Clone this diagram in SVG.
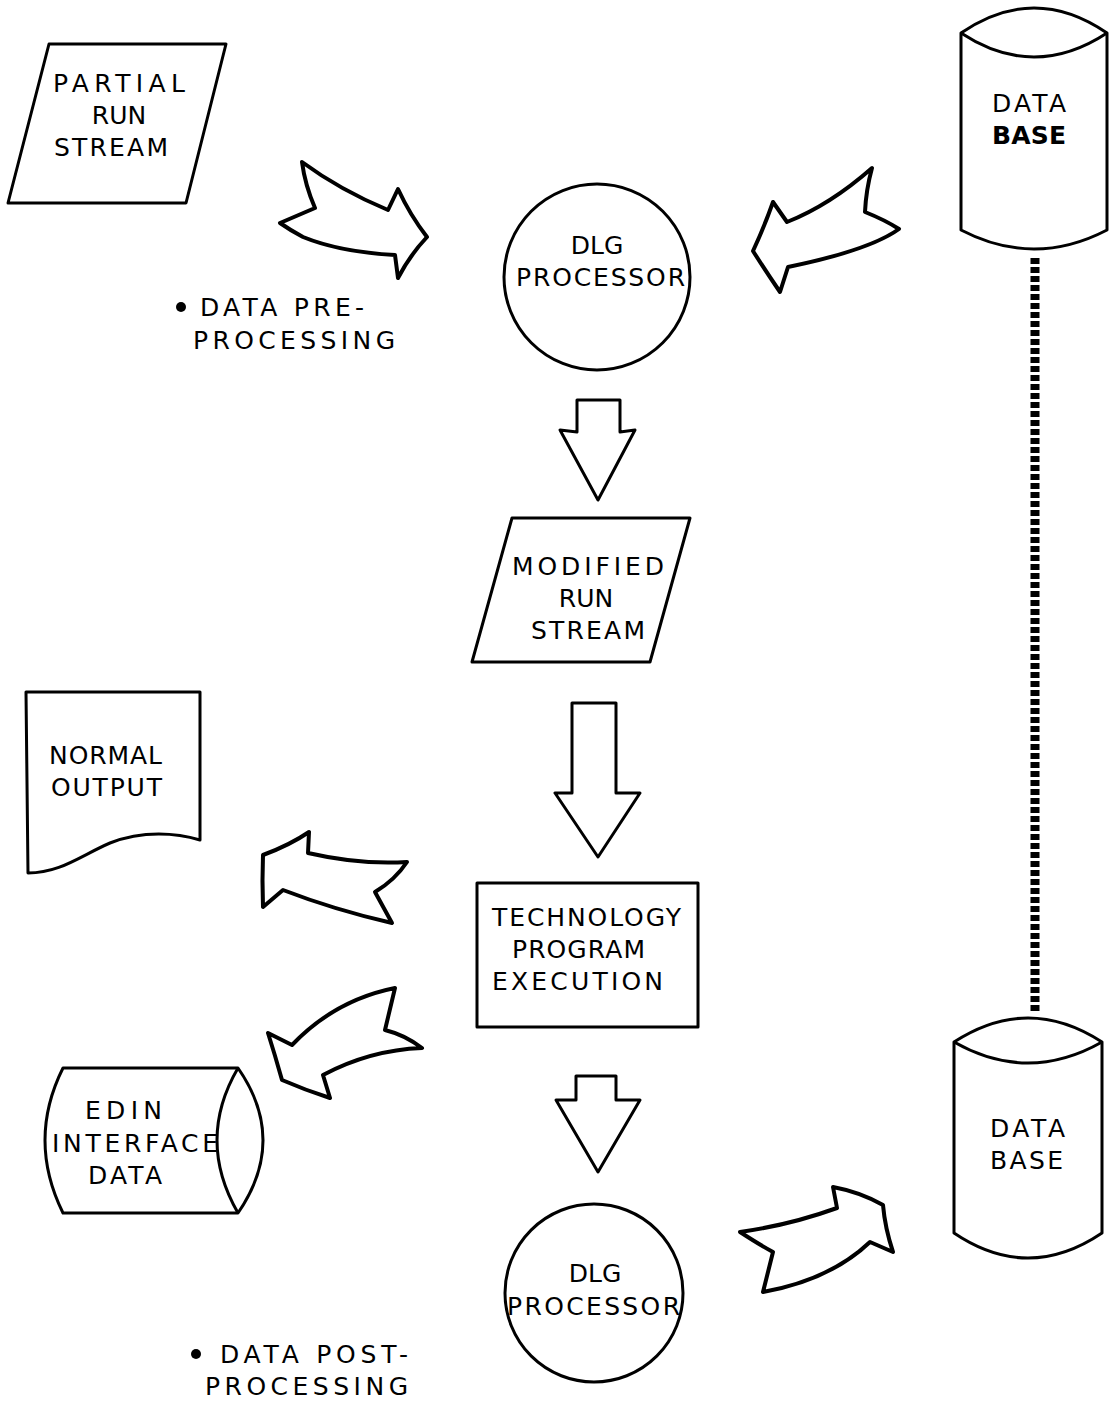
<svg xmlns="http://www.w3.org/2000/svg" width="1111" height="1403" viewBox="0 0 1111 1403">
<style>
.s{fill:#fff;stroke:#000;stroke-width:3;stroke-linejoin:round}
.a{fill:#fff;stroke:#000;stroke-width:4;stroke-linejoin:round}
.t{font-family:"DejaVu Sans","Liberation Sans",sans-serif;font-size:25px;fill:#000}
.m{text-anchor:middle}
.b{font-weight:bold}
</style>
<rect width="1111" height="1403" fill="#fff"/>
<g id="connectors">
<line x1="1035" y1="258" x2="1035" y2="1014" stroke="#000" stroke-width="9" stroke-dasharray="6 3"/>
<path class="a" d="M302,162 Q340,190 388,210 L398,189 Q410,215 427,237 Q410,255 398,278 L395,255 Q340,252 303,237 Q290,230 280,223 L315,208 Q305,185 302,162 Z"/>
<path class="a" d="M872,168 Q866,190 865,212 Q885,220 899,229 Q870,250 788,267 L780,292 Q765,270 753,251 Q765,225 773,202 L787,222 Q830,205 872,168 Z"/>
<path class="s" d="M577,400 L620,400 L620,432 L635,430 L598,500 L560,430 L577,432 Z"/>
<path class="s" d="M572,703 L616,703 L616,793 L640,793 L598,857 L555,793 L572,793 Z"/>
<path class="a" d="M309,832 L308,853 Q360,865 407,862 Q395,880 375,892 L392,923 Q335,910 283,890 L263,907 Q262,880 263,855 Q290,845 309,832 Z"/>
<path class="a" d="M395,988 L385,1030 Q405,1035 422,1048 Q370,1050 323,1075 L330,1098 Q305,1090 282,1080 Q275,1055 268,1033 L292,1045 Q335,1000 395,988 Z"/>
<path class="s" d="M576,1076 L616,1076 L616,1100 L640,1100 L598,1172 L556,1100 L576,1100 Z"/>
<path class="a" d="M740,1232 Q760,1245 773,1252 L763,1292 Q830,1280 870,1242 L893,1252 Q885,1228 883,1205 Q860,1192 833,1187 L837,1208 Q790,1225 740,1232 Z"/>
</g>
<g id="partial-run-stream">
<path class="s" d="M49,44 L226,44 L186,203 L8,203 Z"/>
<text class="t" x="53" y="92" textLength="132" lengthAdjust="spacing">PARTIAL</text>
<text class="t m" x="119" y="124">RUN</text>
<text class="t" x="54" y="156" textLength="114" lengthAdjust="spacing">STREAM</text>
</g>
<g id="database-top">
<path class="s" d="M961,33 Q1034,-17 1107,33 L1107,230 Q1034,268 961,230 Z"/>
<path class="s" fill="none" d="M961,33 Q1034,81 1107,33"/>
<text class="t" x="992" y="112" textLength="74" lengthAdjust="spacing">DATA</text>
<text class="t b" x="992" y="144" textLength="74" lengthAdjust="spacing">BASE</text>
</g>
<g id="dlg-processor-top">
<circle class="s" cx="597" cy="277" r="93"/>
<text class="t m" x="597" y="254">DLG</text>
<text class="t" x="516" y="286" textLength="169" lengthAdjust="spacing">PROCESSOR</text>
</g>
<g id="pre-processing-label">
<circle cx="181" cy="307" r="5" fill="#000"/>
<text class="t" x="200" y="316" textLength="164" lengthAdjust="spacing">DATA PRE-</text>
<text class="t" x="193" y="349" textLength="202" lengthAdjust="spacing">PROCESSING</text>
</g>
<g id="modified-run-stream">
<path class="s" d="M512,518 L690,518 L650,662 L472,662 Z"/>
<text class="t" x="512" y="575" textLength="152" lengthAdjust="spacing">MODIFIED</text>
<text class="t m" x="586" y="607">RUN</text>
<text class="t" x="531" y="639" textLength="114" lengthAdjust="spacing">STREAM</text>
</g>
<g id="normal-output">
<path class="s" d="M26,692 L200,692 L200,840 C177,833 143,830 110,843 C80,856 60,873 28,873 Z"/>
<text class="t" x="49" y="764" textLength="113" lengthAdjust="spacing">NORMAL</text>
<text class="t" x="51" y="796" textLength="111" lengthAdjust="spacing">OUTPUT</text>
</g>
<g id="technology-program-execution">
<rect class="s" x="477" y="883" width="221" height="144"/>
<text class="t" x="492" y="926" textLength="189" lengthAdjust="spacing">TECHNOLOGY</text>
<text class="t" x="512" y="958" textLength="133" lengthAdjust="spacing">PROGRAM</text>
<text class="t" x="492" y="990" textLength="171" lengthAdjust="spacing">EXECUTION</text>
</g>
<g id="edin-interface-data">
<path class="s" d="M63,1068 L238,1068 Q288,1140 238,1213 L63,1213 Q27,1140 63,1068 Z"/>
<path class="s" fill="none" d="M238,1068 Q196,1140 238,1213"/>
<text class="t" x="85" y="1119" textLength="77" lengthAdjust="spacing">EDIN</text>
<text class="t" x="52" y="1152" textLength="166" lengthAdjust="spacing">INTERFACE</text>
<text class="t" x="88" y="1184" textLength="74" lengthAdjust="spacing">DATA</text>
</g>
<g id="database-bottom">
<path class="s" d="M954,1042 Q1028,994 1102,1042 L1102,1233 Q1028,1283 954,1233 Z"/>
<path class="s" fill="none" d="M954,1042 Q1028,1084 1102,1042"/>
<text class="t" x="990" y="1137" textLength="75" lengthAdjust="spacing">DATA</text>
<text class="t" x="990" y="1169" textLength="73" lengthAdjust="spacing">BASE</text>
</g>
<g id="dlg-processor-bottom">
<circle class="s" cx="594" cy="1293" r="89"/>
<text class="t m" x="595" y="1282">DLG</text>
<text class="t" x="507" y="1315" textLength="173" lengthAdjust="spacing">PROCESSOR</text>
</g>
<g id="post-processing-label">
<circle cx="196" cy="1354" r="5" fill="#000"/>
<text class="t" x="220" y="1363" textLength="188" lengthAdjust="spacing">DATA POST-</text>
<text class="t" x="205" y="1395" textLength="203" lengthAdjust="spacing">PROCESSING</text>
</g>
</svg>
